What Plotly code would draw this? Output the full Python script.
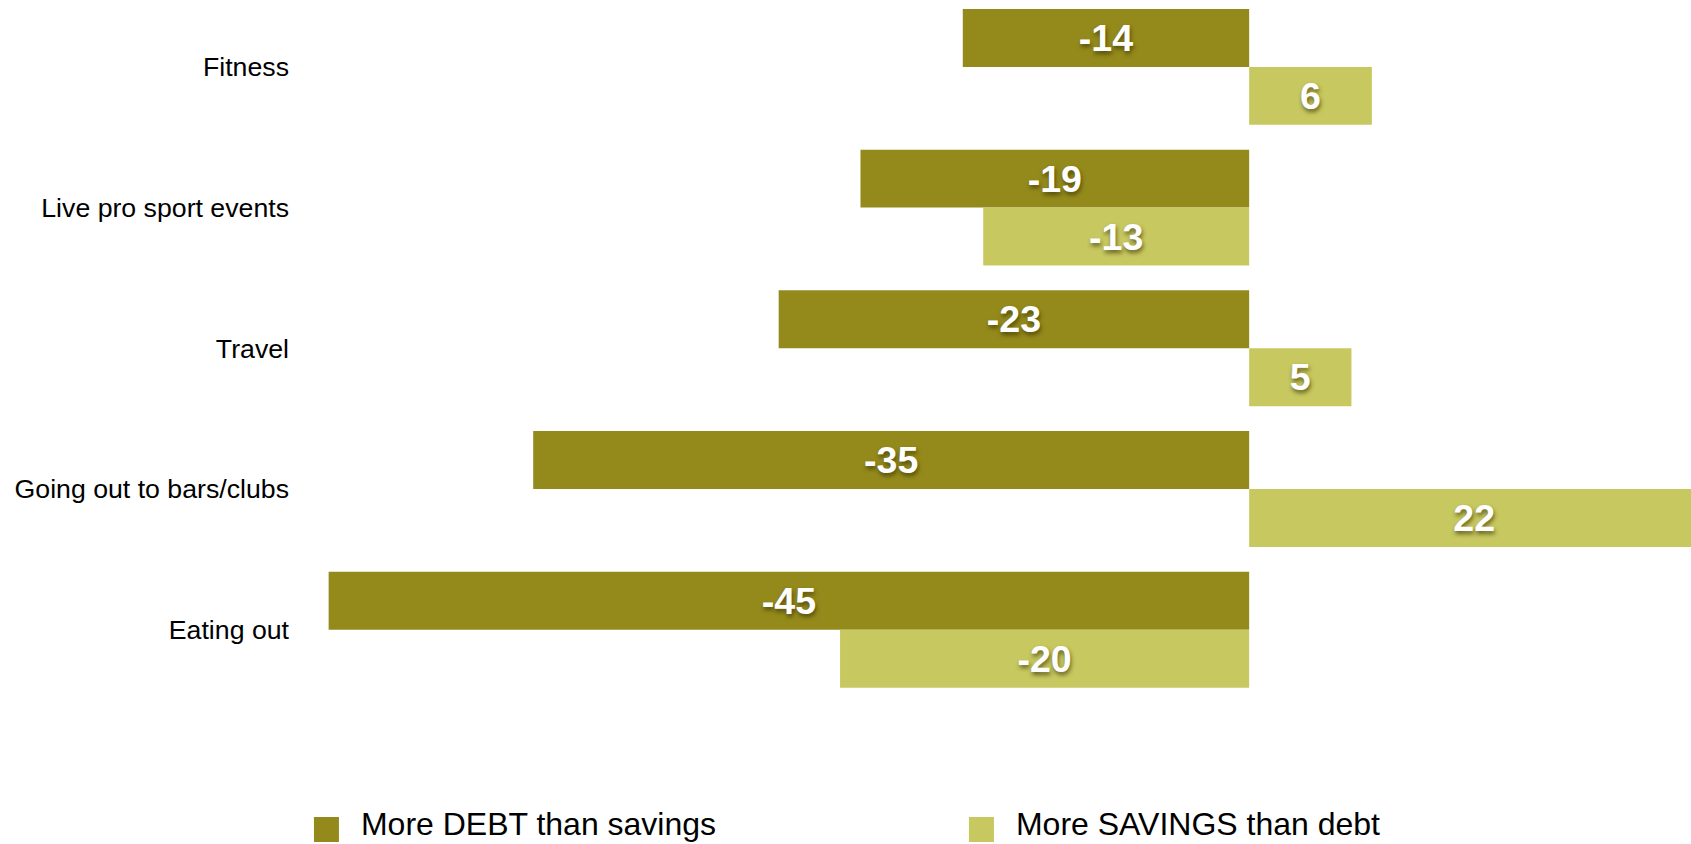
import plotly.graph_objects as go

# Spending categories, top to bottom
categories = [
    "Fitness",
    "Live pro sport events",
    "Travel",
    "Going out to bars/clubs",
    "Eating out",
]

# Net balance per category for each group
debt_values = [-14, -19, -23, -35, -45]
savings_values = [6, -13, 5, 22, -20]

series_names = ["More DEBT than savings", "More SAVINGS than debt"]

DEBT_COLOR = "#948A1B"
SAVINGS_COLOR = "#C8C860"
FONT = "Liberation Sans, Arial, Helvetica, sans-serif"

label_font = dict(
    family=FONT,
    size=37.5,
    color="white",
    weight="bold",
    shadow="1px 3px 4px rgba(50,45,0,0.65)",
)

fig = go.Figure()
for name, values, color in [
    (series_names[0], debt_values, DEBT_COLOR),
    (series_names[1], savings_values, SAVINGS_COLOR),
]:
    fig.add_trace(
        go.Bar(
            name=name,
            y=categories,
            x=values,
            orientation="h",
            marker=dict(color=color, line=dict(width=0)),
            text=[str(v) for v in values],
            textposition="inside",
            insidetextanchor="middle",
            textfont=label_font,
            hoverinfo="skip",
        )
    )

fig.update_layout(
    width=1691,
    height=844,
    barmode="group",
    bargap=0.176,
    bargroupgap=0,
    paper_bgcolor="white",
    plot_bgcolor="white",
    margin=dict(l=300, r=0, t=0, b=144, autoexpand=False),
    font=dict(family=FONT, color="black"),
    showlegend=True,
    legend=dict(
        orientation="h",
        xref="container",
        x=0.1898,
        xanchor="left",
        yref="paper",
        y=-0.136,
        yanchor="top",
        font=dict(family=FONT, size=32, color="black"),
        entrywidth=610,
        entrywidthmode="pixels",
        bgcolor="rgba(0,0,0,0)",
        borderwidth=0,
    ),
)

fig.update_xaxes(
    range=[-46.4, 21.6],
    showgrid=False,
    zeroline=False,
    showticklabels=False,
    ticks="",
    showline=False,
    fixedrange=True,
)
fig.update_yaxes(
    type="category",
    categoryorder="array",
    categoryarray=categories,
    range=[4.4996, -0.4755],
    showgrid=False,
    zeroline=False,
    showline=False,
    ticks="",
    ticklabelstandoff=10,
    tickfont=dict(family=FONT, size=26.7, color="black"),
    automargin=False,
    fixedrange=True,
)

# Larger square legend swatches (25 px), set a little left of and below the text;
# the legend clip is lifted so the first swatch is not cut at the legend edge
legend_swatch_js = """
var gd = document.getElementById('{plot_id}');
function enlargeSwatches() {
    gd.querySelectorAll('.legend .scrollbox').forEach(function (s) {
        s.removeAttribute('clip-path');
        s.style.clipPath = 'none';
    });
    gd.querySelectorAll('.legendpoints path').forEach(function (p) {
        p.setAttribute('d', 'M-2,19.5H-27V-5.5H-2Z');
    });
}
enlargeSwatches();
gd.on('plotly_afterplot', enlargeSwatches);
"""

fig.write_html("out.html", post_script=legend_swatch_js)
